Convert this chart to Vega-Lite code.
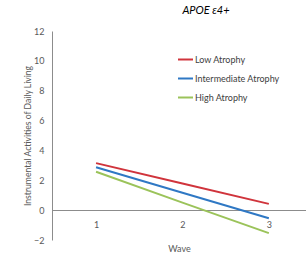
{
  "$schema": "https://vega.github.io/schema/vega-lite/v6.json",
  "width": 254,
  "height": 209,
  "autosize": "none",
  "padding": {"left": 52, "top": 31, "right": 0, "bottom": 16},
  "background": "white",
  "config": {"view": {"stroke": null}, "font": "Lato"},
  "title": {"text": "APOE ε4+", "fontStyle": "italic", "fontSize": 11, "fontWeight": "normal", "color": "#000000", "anchor": "middle", "dx": 27, "offset": 11},
  "data": {"values": [
    {"wave": 1, "group": "Low Atrophy", "iadl": 3.15},
    {"wave": 2, "group": "Low Atrophy", "iadl": 1.78},
    {"wave": 3, "group": "Low Atrophy", "iadl": 0.42},
    {"wave": 1, "group": "Intermediate Atrophy", "iadl": 2.87},
    {"wave": 2, "group": "Intermediate Atrophy", "iadl": 1.16},
    {"wave": 3, "group": "Intermediate Atrophy", "iadl": -0.54},
    {"wave": 1, "group": "High Atrophy", "iadl": 2.57},
    {"wave": 2, "group": "High Atrophy", "iadl": 0.5},
    {"wave": 3, "group": "High Atrophy", "iadl": -1.54}
  ]},
  "mark": {"type": "line", "strokeWidth": 2},
  "encoding": {
    "x": {"field": "wave", "type": "quantitative",
      "scale": {"domain": [0.49, 3.43], "nice": false, "zero": false},
      "axis": {"values": [1, 2, 3], "format": "d", "ticks": false, "grid": false, "offset": -30,
        "domainColor": "#8c8c8c", "labelColor": "#595959", "labelFontSize": 9, "labelPadding": 10,
        "title": "Wave", "titleFontSize": 9, "titleFontWeight": "normal", "titleColor": "#595959", "titlePadding": 15}},
    "y": {"field": "iadl", "type": "quantitative",
      "scale": {"domain": [-2, 12], "nice": false, "zero": false},
      "axis": {"values": [-2, 0, 2, 4, 6, 8, 10, 12], "ticks": false, "grid": false,
        "domainColor": "#8c8c8c", "labelColor": "#595959", "labelFontSize": 9, "labelPadding": 8,
        "title": "Instrumental Activities of Daily Living", "titleFontSize": 8.6, "titleFontWeight": "normal", "titleColor": "#595959", "titlePadding": 1}},
    "color": {"field": "group", "type": "nominal",
      "scale": {"domain": ["Low Atrophy", "Intermediate Atrophy", "High Atrophy"], "range": ["#D0343C", "#2F78C4", "#9BC35A"]},
      "legend": {"title": null, "orient": "none", "legendX": 125, "legendY": 20, "symbolType": "stroke", "symbolSize": 225, "symbolStrokeWidth": 2,
        "labelFontSize": 9, "labelColor": "#404040", "rowPadding": 5, "labelOffset": 1}}
  }
}
